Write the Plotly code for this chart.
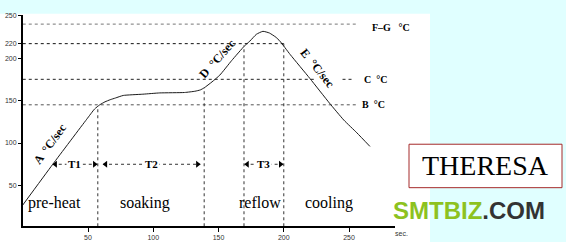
import plotly.graph_objects as go

# ---- data ----
time_s = [0, 23, 49, 55, 59, 63, 67, 71, 77, 92, 105, 124, 132, 136, 139, 145, 151, 160,
          170, 174, 179, 184, 189, 194, 197, 205, 220, 235, 246, 256, 266]
temp_c = [27, 75, 128, 140, 145, 148.5, 151, 153, 156, 157.5, 159, 159.5, 161, 162.5, 165,
          172, 180, 197, 214.5, 220, 228, 231.5, 229.5, 224.5, 220, 204, 176, 147, 127, 112, 96]

x_ticks = [50, 100, 150, 200, 250]
y_tick_vals = [50, 100, 150, 200, 217, 250]
y_tick_text = ["50", "100", "150", "200", "220", "250"]

# reference levels (value, end time)
level_names = ["F-G", "220", "C", "B"]
level_vals = [240, 217, 175, 145]
level_ends = [256, 200, 224, 256]
level_colors = ["#777777", "#111111", "#222222", "#555555"]

# vertical phase boundaries (time, top temperature)
bound_times = [57.5, 139, 169.5, 200]
bound_tops = [143, 165, 215, 217]

# time-span arrows
span_labels = ["T1", "T2", "T3"]
span_starts = [23, 61.5, 170]
span_ends = [57, 136, 199.5]
span_level = 75

phase_labels = ["pre-heat", "soaking", "reflow", "cooling"]
phase_times = [24, 94, 182, 235]
phase_level = 30

W, H = 566, 242
fig = go.Figure()

# reference dotted levels
for v, e, c in zip(level_vals, level_ends, level_colors):
    fig.add_trace(go.Scatter(x=[0, e], y=[v, v], mode="lines",
                             line=dict(color=c, width=1, dash="dot"),
                             hoverinfo="skip", showlegend=False))
# short dotted piece before "C"
fig.add_trace(go.Scatter(x=[245, 253], y=[level_vals[2]] * 2, mode="lines",
                         line=dict(color="#222", width=1, dash="dot"),
                         hoverinfo="skip", showlegend=False))

# vertical boundaries
for t, top in zip(bound_times, bound_tops):
    fig.add_trace(go.Scatter(x=[t, t], y=[2, top], mode="lines",
                             line=dict(color="#333", width=1, dash="dot"),
                             hoverinfo="skip", showlegend=False))

# span arrows
for s, e in zip(span_starts, span_ends):
    fig.add_trace(go.Scatter(x=[s, e], y=[span_level] * 2, mode="lines",
                             line=dict(color="#333", width=1, dash="dot"),
                             hoverinfo="skip", showlegend=False))
    fig.add_trace(go.Scatter(x=[s + 2, e - 2], y=[span_level] * 2, mode="markers",
                             marker=dict(symbol=["triangle-left", "triangle-right"],
                                         size=6, color="black"),
                             hoverinfo="skip", showlegend=False))

# profile curve
fig.add_trace(go.Scatter(x=time_s, y=temp_c, mode="lines",
                         line=dict(color="#1a1a1a", width=1, shape="spline", smoothing=0.5),
                         showlegend=False))

ann = []
serif = "Liberation Serif, Times New Roman, serif"
for lab, s, e in zip(span_labels, span_starts, span_ends):
    ann.append(dict(x=(s + e) / 2, y=span_level, text="<b>%s</b>" % lab, showarrow=False,
                    xref="x", yref="y", font=dict(family=serif, size=11, color="black"),
                    bgcolor="white"))
for lab, t in zip(phase_labels, phase_times):
    ann.append(dict(x=t, y=phase_level, text=lab, showarrow=False, xref="x", yref="y",
                    font=dict(family=serif, size=16, color="black")))

rate_labels = [("A  °C/sec", 20.9, 98.6, -54), ("D  °C/sec", 148.9, 198.6, -48),
               ("E  °C/sec", 225.5, 188, 51)]
for txt, t, v, ang in rate_labels:
    ann.append(dict(x=t, y=v, text="<b>%s</b>" % txt, showarrow=False, xref="x", yref="y",
                    textangle=ang, font=dict(family=serif, size=12, color="black")))

side_labels = [("F–G   °C", 266, 235.5), ("C  °C", 260, 175), ("B  °C", 258.5, 145)]
for txt, t, v in side_labels:
    ann.append(dict(x=t, y=v, text="<b>%s</b>" % txt, showarrow=False, xref="x", yref="y",
                    xanchor="left", font=dict(family=serif, size=10, color="black")))

ann.append(dict(x=401 / W, y=(H - 233) / H, text="sec.", showarrow=False, xref="paper",
                yref="paper", xanchor="center", yanchor="middle",
                font=dict(family="Liberation Sans, Arial", size=7, color="#333")))
ann.append(dict(x=(409 + 562) / 2 / W, y=(H - 165) / H, text="THERESA", showarrow=False,
                xref="paper", yref="paper", xanchor="center", yanchor="middle",
                font=dict(family=serif, size=28, color="black")))
ann.append(dict(x=469 / W, y=(H - 210) / H,
                text="<b><span style='color:#8DC21F'>SMTBIZ</span>"
                     "<span style='color:#333333'>.COM</span></b>",
                showarrow=False, xref="paper", yref="paper", xanchor="center", yanchor="middle",
                font=dict(family="Liberation Sans, Arial", size=24)))

shapes = [
    dict(type="rect", xref="paper", yref="paper", x0=0, x1=430 / W, y0=0, y1=(H - 11) / H,
         fillcolor="white", line=dict(width=0), layer="below"),
    dict(type="rect", xref="paper", yref="paper", x0=409 / W, x1=562 / W,
         y0=(H - 187) / H, y1=(H - 143) / H, fillcolor="white",
         line=dict(color="#A52A2A", width=1), layer="below"),
]

fig.update_layout(
    width=W, height=H, autosize=False,
    margin=dict(l=0, r=0, t=0, b=0),
    paper_bgcolor="#E0FFFF", plot_bgcolor="rgba(0,0,0,0)",
    annotations=ann, shapes=shapes,
    xaxis=dict(domain=[22.75 / W, 395 / W], range=[0, 285.2], showline=True,
               linecolor="black", linewidth=1.5, ticks="outside", ticklen=4,
               tickcolor="black", tickvals=x_ticks, showgrid=False, zeroline=False,
               tickfont=dict(family="Liberation Sans, Arial", size=7, color="#333")),
    yaxis=dict(domain=[(H - 226) / H, (H - 12) / H], range=[2.1, 250.9], showline=True,
               linecolor="black", linewidth=1.5, ticks="outside", ticklen=3,
               tickcolor="black", tickvals=y_tick_vals, ticktext=y_tick_text,
               showgrid=False, zeroline=False,
               tickfont=dict(family="Liberation Sans, Arial", size=7, color="#333")),
)

fig.write_html("out.html")
